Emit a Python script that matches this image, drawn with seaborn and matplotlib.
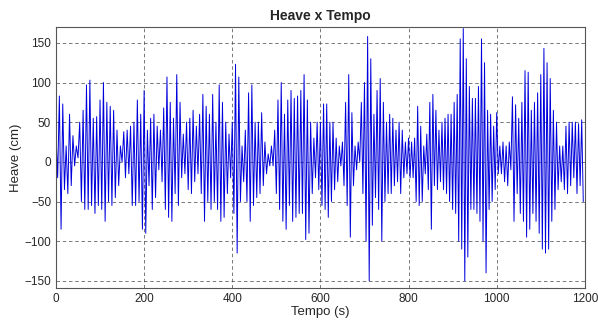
import numpy as np
import pandas as pd
import matplotlib
matplotlib.use("Agg")
import matplotlib.pyplot as plt
import seaborn as sns

# heave extrema, as (max, min) pairs, one list per 200 s block
heave_0_200 = [
    (37, -20), (83, -85), (73, -35), (20, -40), (60, -30), (33, -5), (20, 5),
    (50, -50), (65, -60), (97, -60), (103, -55), (55, -65), (57, -55), (78, -60),
    (100, -75), (75, -50), (70, -55), (65, -45), (40, -30), (20, 0), (38, -20),
    (40, -15), (45, -55), (50, -55), (78, -50), (60, -85),
]
heave_200_400 = [
    (90, -90), (40, -30), (55, -60), (60, -45), (45, -10), (40, -25), (68, -60),
    (107, -70), (75, -75), (55, -40), (110, -55), (75, -20), (35, -15), (50, -35),
    (55, -40), (65, -25), (45, -15), (60, -40), (85, -75), (70, -50), (60, -60),
    (85, -50), (50, -60), (97, -75), (75, -70), (50, -40), (35, -20),
]
heave_400_600 = [
    (50, -65), (123, -115), (107, -50), (20, -25), (40, -50), (87, -75), (97, -55),
    (50, -45), (50, -40), (62, -30), (25, -15), (10, -5), (20, -5), (40, -40),
    (78, -60), (100, -75), (60, -85), (78, -55), (90, -75), (80, -70), (83, -65),
    (90, -65), (110, -98), (78, -90), (50, -40), (30, -20), (50, -35),
]
heave_600_800 = [
    (50, -55), (73, -60), (73, -70), (50, -50), (50, -35), (30, -25), (20, -5),
    (25, -30), (75, -55), (110, -95), (62, -30), (20, -10), (25, 0), (75, -40),
    (100, -100), (158, -150), (130, -80), (60, -45), (90, -60), (105, -100),
    (75, -50), (50, -40), (60, -40), (55, -30), (40, -25), (50, -40), (40, -20),
    (25, -15),
]
heave_800_1000 = [
    (30, -20), (25, -20), (30, -50), (70, -55), (45, -50), (20, -15), (35, -35),
    (75, -85), (85, -30), (65, -35), (40, -25), (50, -35), (55, -40), (60, -50),
    (60, -60), (75, -65), (85, -100), (155, -110), (168, -150), (130, -120),
    (95, -60), (80, -60), (80, -65), (95, -75), (155, -100), (125, -140),
    (65, -60), (60, -50), (45, -35),
]
heave_1000_1200 = [
    (62, -15), (20, -15), (25, -25), (20, -30), (25, -10), (82, -75), (72, -40),
    (55, -65), (75, -75), (115, -95), (113, -85), (65, -65), (75, -75), (87, -90),
    (110, -110), (143, -115), (125, -110), (105, -75), (65, -60), (50, -35),
    (20, -25), (20, -35), (45, -40), (50, -30), (50, -20), (50, -40), (48, -30),
    (53, -50),
]

blocks = [heave_0_200, heave_200_400, heave_400_600,
          heave_600_800, heave_800_1000, heave_1000_1200]
block_starts = [0, 200, 400, 600, 800, 1000]

frames = []
for start, block in zip(block_starts, blocks):
    vals = [v for pair in block for v in pair]
    t = np.linspace(start, start + 200, len(vals), endpoint=False)
    frames.append(pd.DataFrame({"Tempo": t, "Heave": vals}))
df = pd.concat(frames, ignore_index=True)

sns.set_style("white")
plt.rcParams["font.family"] = ["Liberation Sans", "DejaVu Sans"]

fig = plt.figure(figsize=(5.98, 3.29), dpi=100)
ax = fig.add_axes([0.0936, 0.1246, 0.8844, 0.7934])

sns.lineplot(data=df, x="Tempo", y="Heave", color="#0000dd", linewidth=0.7,
             ax=ax, estimator=None, sort=False)

ax.set_xlim(0, 1200)
ax.set_ylim(-159, 170)
ax.set_xticks(range(0, 1201, 200))
ax.set_yticks(range(-150, 151, 50))
ax.tick_params(direction="in", labelsize=8.5, length=3, color="#444444")
ax.grid(True, linestyle=(0, (5, 4)), color="#444444", linewidth=0.5)
for s in ax.spines.values():
    s.set_color("#555555")
    s.set_linewidth(0.8)

ax.set_xlabel("Tempo (s)", fontsize=9.5, labelpad=1)
ax.set_ylabel("Heave (cm)", fontsize=9.5, labelpad=2)
ax.set_title("Heave x Tempo", fontsize=10, fontweight="bold", pad=5)

fig.savefig("out.png", dpi=100)
